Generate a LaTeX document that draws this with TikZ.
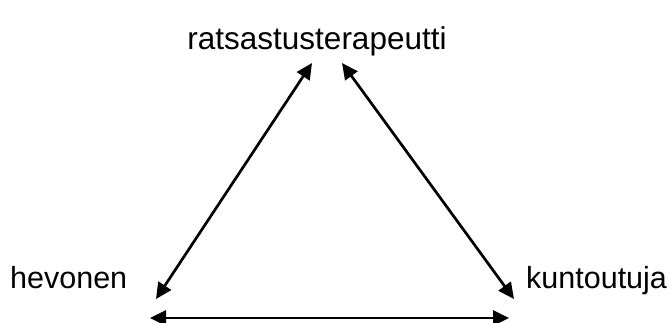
\documentclass[tikz,border=0pt]{standalone}
\usepackage{fontspec}
\setmainfont{Liberation Sans}
\usetikzlibrary{arrows.meta}
\begin{document}
\begin{tikzpicture}[x=1pt, y=-1pt,
    lbl/.style={font=\fontsize{30.5}{36}\selectfont, inner sep=0pt},
    arr/.style={line width=2.7pt, {Triangle[length=16pt,width=15pt]}-{Triangle[length=16pt,width=15pt]}}]
    \useasboundingbox (0,0) rectangle (672,322);

    % Labels
    \node[lbl, anchor=base] (terapeutti) at (317,49) {\fontsize{31.5}{36}\selectfont ratsastusterapeutti};
    \node[lbl, anchor=base west] (hevonen) at (10,288) {hevonen};
    \node[lbl, anchor=base west] (kuntoutuja) at (526,288) {kuntoutuja};

    % Arrow ends
    \coordinate (TopLeft) at (312,63);
    \coordinate (TopRight) at (342,63);
    \coordinate (LeftTip) at (156,299);
    \coordinate (RightTip) at (514,299);
    \coordinate (BottomLeft) at (150,318);
    \coordinate (BottomRight) at (509,318);

    % Triangle of arrows
    \draw[arr] (TopLeft) -- (LeftTip);
    \draw[arr] (TopRight) -- (RightTip);
    \draw[arr] (BottomLeft) -- (BottomRight);
\end{tikzpicture}
\end{document}
